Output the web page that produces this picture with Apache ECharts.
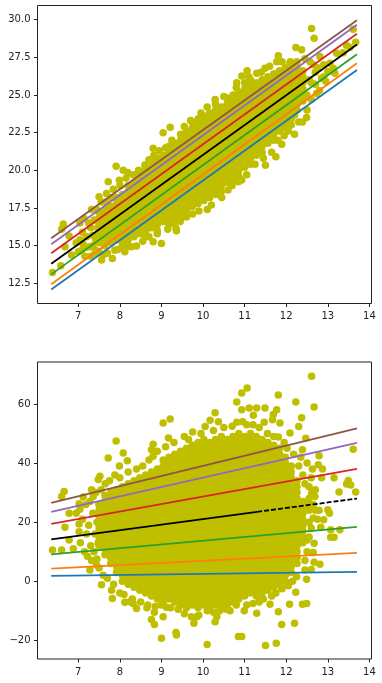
<!DOCTYPE html>
<html><head><meta charset="utf-8">
<style>html,body{margin:0;padding:0;background:#fff}#c{width:382px;height:683px}</style>
<script src="https://cdn.jsdelivr.net/npm/echarts@6/dist/echarts.min.js"></script>
</head><body><div id="c"></div>
<script>
const xTicks=[7,8,9,10,11,12,13,14];
const topYTicks=[12.5,15,17.5,20,22.5,25,27.5,30];
const bottomYTicks=[-20,0,20,40,60];
const lineEnds=[6.35,13.7];
const lineColors=['#1f77b4','#ff7f0e','#2ca02c','#d62728','#9467bd','#8c564b'];
const topLines=[[12.1,26.65],[12.45,27.1],[13.1,27.7],[14.5,29.05],[15.1,29.65],[15.5,29.95]];
const topMean=[13.8,28.35];
const bottomLines=[[1.8,3.2],[4.3,9.6],[9.1,18.4],[19.4,38],[23.5,46.8],[26.5,51.7]];
const bottomMean=[14.2,28];
const coreX=[7.5,7.64,7.78,7.92,8.06,8.2,8.34,8.48,8.62,8.76,8.9,9.04,9.18,9.32,9.46,9.6,9.74,9.88,10.02,10.16,10.3,10.44,10.58,10.72,10.86,11,11.14,11.28,11.42,11.56,11.7,11.84,11.98,12.12,12.26,12.4];
const coreTop=[
[15.2,15.6,16,16.4,16.8,17.2],
[15,15.4,15.8,16.2,16.6,17,17.4],
[15.2,15.6,16,16.4,16.8,17.2,17.6],
[15.4,15.8,16.2,16.6,17,17.4,17.8,18.2],
[15.2,15.6,16,16.4,16.8,17.2,17.6,18,18.4],
[15.4,15.8,16.2,16.6,17,17.4,17.8,18.2,18.6,19],
[15.6,16,16.4,16.8,17.2,17.6,18,18.4,18.8,19.2],
[15.8,16.2,16.6,17,17.4,17.8,18.2,18.6,19,19.4,19.8],
[15.6,16,16.4,16.8,17.2,17.6,18,18.4,18.8,19.2,19.6,20],
[16.2,16.6,17,17.4,17.8,18.2,18.6,19,19.4,19.8,20.2,20.6],
[16,16.4,16.8,17.2,17.6,18,18.4,18.8,19.2,19.6,20,20.4,20.8],
[16.6,17,17.4,17.8,18.2,18.6,19,19.4,19.8,20.2,20.6,21],
[16.4,16.8,17.2,17.6,18,18.4,18.8,19.2,19.6,20,20.4,20.8,21.2,21.6],
[16.6,17,17.4,17.8,18.2,18.6,19,19.4,19.8,20.2,20.6,21,21.4,21.8],
[16.8,17.2,17.6,18,18.4,18.8,19.2,19.6,20,20.4,20.8,21.2,21.6,22,22.4],
[17,17.4,17.8,18.2,18.6,19,19.4,19.8,20.2,20.6,21,21.4,21.8,22.2,22.6],
[17.6,18,18.4,18.8,19.2,19.6,20,20.4,20.8,21.2,21.6,22,22.4,22.8,23.2],
[17.8,18.2,18.6,19,19.4,19.8,20.2,20.6,21,21.4,21.8,22.2,22.6,23,23.4],
[18,18.4,18.8,19.2,19.6,20,20.4,20.8,21.2,21.6,22,22.4,22.8,23.2,23.6],
[18.2,18.6,19,19.4,19.8,20.2,20.6,21,21.4,21.8,22.2,22.6,23,23.4,23.8],
[18.4,18.8,19.2,19.6,20,20.4,20.8,21.2,21.6,22,22.4,22.8,23.2,23.6,24,24.4],
[18.6,19,19.4,19.8,20.2,20.6,21,21.4,21.8,22.2,22.6,23,23.4,23.8,24.2],
[19.2,19.6,20,20.4,20.8,21.2,21.6,22,22.4,22.8,23.2,23.6,24,24.4,24.8],
[19.4,19.8,20.2,20.6,21,21.4,21.8,22.2,22.6,23,23.4,23.8,24.2,24.6,25],
[19.6,20,20.4,20.8,21.2,21.6,22,22.4,22.8,23.2,23.6,24,24.4,24.8,25.2],
[20.2,20.6,21,21.4,21.8,22.2,22.6,23,23.4,23.8,24.2,24.6,25,25.4,25.8],
[20.4,20.8,21.2,21.6,22,22.4,22.8,23.2,23.6,24,24.4,24.8,25.2,25.6,26],
[21,21.4,21.8,22.2,22.6,23,23.4,23.8,24.2,24.6,25,25.4,25.8],
[21.2,21.6,22,22.4,22.8,23.2,23.6,24,24.4,24.8,25.2,25.6,26],
[21.8,22.2,22.6,23,23.4,23.8,24.2,24.6,25,25.4,25.8,26.2],
[22,22.4,22.8,23.2,23.6,24,24.4,24.8,25.2,25.6,26,26.4],
[22.6,23,23.4,23.8,24.2,24.6,25,25.4,25.8,26.2,26.6],
[22.8,23.2,23.6,24,24.4,24.8,25.2,25.6,26,26.4,26.8],
[23,23.4,23.8,24.2,24.6,25,25.4,25.8,26.2,26.6,27],
[24,24.4,24.8,25.2,25.6,26,26.4,26.8,27.2],
[24.6,25,25.4,25.8,26.2,26.6]];
const coreBottom=[
[12,14,16,18,20,22,24,26],
[9,11,13,15,17,19,21,23,25,27,29],
[6,8,10,12,14,16,18,20,22,24,26,28,30],
[3,5,7,9,11,13,15,17,19,21,23,25,27,29,31],
[0,2,4,6,8,10,12,14,16,18,20,22,24,26,28,30,32],
[-1,1,3,5,7,9,11,13,15,17,19,21,23,25,27,29,31,33],
[-2,0,2,4,6,8,10,12,14,16,18,20,22,24,26,28,30,32,34],
[-3,-1,1,3,5,7,9,11,13,15,17,19,21,23,25,27,29,31,33,35],
[-4,-2,0,2,4,6,8,10,12,14,16,18,20,22,24,26,28,30,32,34,36],
[-5,-3,-1,1,3,5,7,9,11,13,15,17,19,21,23,25,27,29,31,33,35,37],
[-6,-4,-2,0,2,4,6,8,10,12,14,16,18,20,22,24,26,28,30,32,34,36,38],
[-7,-5,-3,-1,1,3,5,7,9,11,13,15,17,19,21,23,25,27,29,31,33,35,37,39,41],
[-6,-4,-2,0,2,4,6,8,10,12,14,16,18,20,22,24,26,28,30,32,34,36,38,40,42],
[-7,-5,-3,-1,1,3,5,7,9,11,13,15,17,19,21,23,25,27,29,31,33,35,37,39,41,43],
[-8,-6,-4,-2,0,2,4,6,8,10,12,14,16,18,20,22,24,26,28,30,32,34,36,38,40,42,44],
[-9,-7,-5,-3,-1,1,3,5,7,9,11,13,15,17,19,21,23,25,27,29,31,33,35,37,39,41,43,45],
[-8,-6,-4,-2,0,2,4,6,8,10,12,14,16,18,20,22,24,26,28,30,32,34,36,38,40,42,44,46],
[-9,-7,-5,-3,-1,1,3,5,7,9,11,13,15,17,19,21,23,25,27,29,31,33,35,37,39,41,43,45,47],
[-8,-6,-4,-2,0,2,4,6,8,10,12,14,16,18,20,22,24,26,28,30,32,34,36,38,40,42,44,46,48],
[-9,-7,-5,-3,-1,1,3,5,7,9,11,13,15,17,19,21,23,25,27,29,31,33,35,37,39,41,43,45,47],
[-8,-6,-4,-2,0,2,4,6,8,10,12,14,16,18,20,22,24,26,28,30,32,34,36,38,40,42,44,46,48],
[-9,-7,-5,-3,-1,1,3,5,7,9,11,13,15,17,19,21,23,25,27,29,31,33,35,37,39,41,43,45,47,49],
[-8,-6,-4,-2,0,2,4,6,8,10,12,14,16,18,20,22,24,26,28,30,32,34,36,38,40,42,44,46,48],
[-7,-5,-3,-1,1,3,5,7,9,11,13,15,17,19,21,23,25,27,29,31,33,35,37,39,41,43,45,47,49],
[-6,-4,-2,0,2,4,6,8,10,12,14,16,18,20,22,24,26,28,30,32,34,36,38,40,42,44,46,48,50],
[-5,-3,-1,1,3,5,7,9,11,13,15,17,19,21,23,25,27,29,31,33,35,37,39,41,43,45,47,49],
[-4,-2,0,2,4,6,8,10,12,14,16,18,20,22,24,26,28,30,32,34,36,38,40,42,44,46,48,50],
[-5,-3,-1,1,3,5,7,9,11,13,15,17,19,21,23,25,27,29,31,33,35,37,39,41,43,45,47,49],
[-4,-2,0,2,4,6,8,10,12,14,16,18,20,22,24,26,28,30,32,34,36,38,40,42,44,46,48],
[-3,-1,1,3,5,7,9,11,13,15,17,19,21,23,25,27,29,31,33,35,37,39,41,43,45,47],
[-2,0,2,4,6,8,10,12,14,16,18,20,22,24,26,28,30,32,34,36,38,40,42,44,46],
[-1,1,3,5,7,9,11,13,15,17,19,21,23,25,27,29,31,33,35,37,39,41,43,45],
[0,2,4,6,8,10,12,14,16,18,20,22,24,26,28,30,32,34,36,38,40,42],
[3,5,7,9,11,13,15,17,19,21,23,25,27,29,31,33,35,37,39],
[6,8,10,12,14,16,18,20,22,24,26,28,30,32,34],
[13,15,17,19,21,23,25,27]];
const edgeTop=[[6.38,13.23],[6.58,13.67],[6.64,16.44],[6.6,16.1],[6.78,15.64],[6.68,14.93],[6.84,14.38],[7.04,16.5],[7.14,16.8],[7.04,15.4],[7.08,14.7],[7.28,14.93],[7.16,14.3],[7.32,17.4],[7.44,17.4],[7.5,18.25],[7.72,19.25],[7.68,18.47],[7.84,18.75],[7.91,20.27],[8.08,20],[7.99,19.35],[8.19,19.85],[7.56,14.05],[7.82,14.16],[7.88,14.7],[8.12,14.6],[8.4,14.98],[8.28,14.93],[8.8,15.27],[9,15.15],[9.35,16.15],[9.36,16],[10.1,17.41],[10.33,18.63],[10.85,19.25],[10.93,19.36],[11.5,20.33],[11.75,20.9],[11.89,21.73],[11.8,22],[12.2,22.4],[12.49,23.5],[12.39,23.2],[12.2,23.67],[12.73,25.1],[9.04,22.5],[9.21,22.85],[8.8,21.46],[12.61,29.4],[12.67,28.76],[13.61,29.36],[13.67,28.5],[13.45,28.3],[13.53,28.14],[12.23,28.14],[12.37,27.99],[11.81,27.6],[11.77,27.2],[11.49,26.77],[11.06,26.6],[10.93,26.26],[11.29,26.44],[10.81,25.8],[10.29,24.7],[13.21,27.77],[13.37,27.8],[13.13,26.77],[13,26.55],[13.17,26.44],[12.81,27.55],[12.85,26.1],[12.57,27.2],[12.09,27.1],[12.7,26.5],[12.6,25.8],[12.9,27],[7.2,15.6],[7.3,16.2],[7.35,15],[7.4,14.5],
[6.95,15.2],[7,14.6],[7.1,15.9],[7.12,15.1],[7.2,14.9],[7.25,16.5],[7.3,14.3],[7.35,15.7],[7.38,16.7],[7.42,14.7],[7.42,15.4],[7.47,16.2],[7.5,14.6],[7.55,17.9],[7.6,14.4],[7.65,17.9],[7.7,14.5],[7.78,18.2],[7.95,14.75],[8,19],[8.05,14.9],[8.15,19.5],[8.2,14.95],[8.32,19.7],[8.45,20],[8.55,15.3],[8.6,20.35],[8.7,15.6],[8.7,20.7],[8.82,21],[8.9,15.8],[8.95,21.3],[9.1,21.5],[9.15,16.1],[9.25,22],[9.3,16.5],[9.45,16.6],[9.55,22.9],[9.6,16.9],[9.7,23.3],[9.75,17.1],[9.9,17.3],[9.95,23.8],[10.1,24.2],[10.2,17.7],[10.45,18.2],[10.5,24.9],[10.6,18.7],[10.7,19],[10.8,25.5],[11.05,19.7],[11.1,26.2],[11.25,20.4],[11.4,26.5],[11.45,20.8],[11.6,26.9],[11.65,21.2],[11.9,27.2],[11.95,22.3],[12.05,22.6],[12.1,27.2],[12.3,23.2],[12.45,27.4],[12.5,24],[12.5,25],[12.55,26],[12.6,24.7],[12.65,27],[12.7,25.7],[12.75,26.8],[12.8,25.3],[12.9,26.2],[12.95,25.9],[13.05,27.1]];
const edgeBottom=[[6.38,10.6],[6.6,10.6],[6.68,18.3],[6.66,30.4],[6.6,28.7],[6.78,23],[7.02,26.2],[7.04,24.4],[7.02,19.4],[7.02,16.8],[7.12,28.5],[7.32,31],[7.36,28.7],[6.88,11],[6.78,14],[7.28,3.8],[7.44,5.5],[7.56,-1.2],[7.72,41.7],[7.91,47.5],[7.99,39],[8.08,43.4],[8.18,40.8],[7.52,35.5],[7.48,34.4],[7.82,-5.8],[7.8,-3],[8.12,-7.1],[8.24,-6.9],[8.4,-9.2],[8.32,-7.5],[8.67,-8],[8.8,46.4],[8.76,44.5],[8.8,42.3],[9.17,48.5],[9.04,53.6],[9.21,54.9],[8.76,-12.9],[8.83,-14.6],[8.83,-10.5],[9,-19.3],[9.35,-17.3],[9.36,-18.2],[10.1,-21.4],[9.04,-12],[9.12,-8.8],[9.78,-14.2],[9.85,-12],[9.72,-12],[10.33,-12],[10.29,-13.7],[10.85,-18.7],[10.93,-18.7],[11.5,-21.7],[11.76,-21],[11.89,-14.6],[11.81,-10.3],[12.2,-14.2],[12.08,-7.8],[11.89,-2.4],[12.23,-3.7],[12.39,-7.8],[12.49,-7.5],[11.29,-10.8],[10.99,-10],[11.61,-7.8],[12.61,69.4],[12.67,59],[12.23,60.7],[12.37,55.3],[12.3,52.4],[12.09,50.2],[11.81,63],[11.77,58],[11.49,58.6],[11.06,65.4],[10.93,63.7],[10.81,60.7],[10.93,58],[11.11,58.6],[11.29,58.6],[11.21,56.2],[11.69,56.4],[11.67,54.7],[11.85,53.6],[11.47,53.8],[10.81,53.8],[10.29,57],[10.17,54.5],[10.37,54],[10.05,52.4],[11.81,48.8],[12.47,48.4],[12.39,44.5],[12.79,42.5],[12.63,38],[12.77,39.4],[12.87,38],[12.85,35],[13.15,35],[13.61,44.7],[13.49,34.1],[13.45,32.9],[13.55,32.6],[13.67,30.2],[13.27,30.2],[12.61,29.8],[12.69,28.7],[12.79,24],[13,24.2],[13.04,23],[12.9,20.8],[12.83,18.3],[13.07,17.4],[13.15,14.9],[13.07,14.9],[13.29,17.4],[12.65,21.4],[12.67,12.9],[12.65,9.7],[12.67,6.4],[12.81,5.8],[12.49,0.7],[12.45,3.8],[12.5,14],[12.55,20],[12.5,26],[12.55,32],[12.5,40],
[6.95,23],[7.05,13],[7.1,21],[7.15,10],[7.18,26],[7.2,16],[7.22,8.5],[7.25,19],[7.28,27],[7.3,12],[7.32,7],[7.35,23],[7.38,10],[7.4,16],[7.42,30],[7.45,7.5],[7.45,20],[7.48,13],[7.5,26],[7.5,4.5],[7.55,31],[7.6,2],[7.65,33],[7.7,1],[7.75,34],[7.85,-1],[7.88,36],[8,-4],[8,35],[8.1,-4.5],[8.2,37],[8.3,-6],[8.4,38],[8.5,-7],[8.55,39],[8.65,-9],[8.7,41],[8.85,-8.5],[8.9,44],[9,-8],[9.1,45.5],[9.22,-9],[9.3,47],[9.4,-9.5],[9.55,-11],[9.55,49],[9.65,48],[9.75,50.5],[9.9,-11.5],[9.95,50],[10.1,-10],[10.25,51],[10.25,-10.5],[10.4,-10],[10.5,52],[10.55,-9.5],[10.65,-10],[10.7,52.5],[10.8,-8],[10.95,54],[11.05,-8],[11.05,53],[11.2,53],[11.2,-7.5],[11.35,52],[11.35,-7],[11.45,-6],[11.55,50],[11.65,-5],[11.7,49],[11.75,-4],[11.95,47],[11.9,-2.5],[12.02,45],[12.05,-1.5],[12.15,0],[12.18,43],[12.25,1.5],[12.3,39],[12.35,42],[12.4,36],[12.45,33],[12.45,7],[12.5,10],[12.55,15],[12.55,24],[12.55,28],[12.6,35],[12.6,18],[12.65,26],[12.7,24],[12.7,31],[12.75,21],[12.6,4]];

const ptsOf=(cols,edge)=>coreX.flatMap((x,i)=>cols[i].map(y=>[x,y])).concat(edge);
const sc=(g,data)=>({type:'scatter',xAxisIndex:g,yAxisIndex:g,data,symbolSize:7.5,large:false,progressive:0,itemStyle:{color:'#bfbf00',opacity:1},z:2,silent:true});
const ln=(g,c,color,type,z)=>({type:'line',xAxisIndex:g,yAxisIndex:g,data:[[lineEnds[0],c[0]],[lineEnds[1],c[1]]],showSymbol:false,symbol:'none',lineStyle:{color,width:1.8,type:type||'solid'},z:z||3,silent:true});
const meanX=11.3;
const bottomMeanAt=bottomMean[0]+(meanX-lineEnds[0])*(bottomMean[1]-bottomMean[0])/(lineEnds[1]-lineEnds[0]);
const xa=(g)=>({type:'value',gridIndex:g,min:6.02,max:14.05,splitLine:{show:false},axisLine:{show:false,onZero:false},
  axisTick:{show:true,length:3.5,lineStyle:{color:'#222',width:1},customValues:xTicks},
  axisLabel:{color:'#222',fontFamily:'DejaVu Sans',fontSize:10,margin:8,customValues:xTicks,formatter:v=>String(v)}});
const ya=(g,min,max,ticks,f)=>({type:'value',gridIndex:g,min,max,splitLine:{show:false},axisLine:{show:false,onZero:false},
  axisTick:{show:true,length:3.5,lineStyle:{color:'#222',width:1},customValues:ticks},
  axisLabel:{color:'#222',fontFamily:'DejaVu Sans',fontSize:10,margin:7,customValues:ticks,formatter:f}});
const chart=echarts.init(document.getElementById('c'),null,{renderer:'canvas'});
chart.setOption({animation:false,
  grid:[{left:37.5,top:5.5,width:334,height:298,show:true,borderColor:'#222',borderWidth:1,backgroundColor:'#fff'},
        {left:37.5,top:362,width:334,height:297,show:true,borderColor:'#222',borderWidth:1,backgroundColor:'#fff'}],
  xAxis:[xa(0),xa(1)],
  yAxis:[ya(0,11.17,30.93,topYTicks,v=>v.toFixed(1)),ya(1,-26.3,74.2,bottomYTicks,v=>String(v).replace('-','\u2212'))],
  series:[sc(0,ptsOf(coreTop,edgeTop)),sc(1,ptsOf(coreBottom,edgeBottom)),
    ...topLines.map((c,i)=>ln(0,c,lineColors[i])),
    ln(0,topMean,'#000'),
    ...bottomLines.map((c,i)=>ln(1,c,lineColors[i])),
    {...ln(1,[bottomMean[0],bottomMeanAt],'#000'),data:[[lineEnds[0],bottomMean[0]],[meanX,bottomMeanAt]]},
    {...ln(1,[bottomMeanAt,bottomMean[1]],'#000',[5,2]),data:[[meanX,bottomMeanAt],[lineEnds[1],bottomMean[1]]]}
  ]});
</script></body></html>
